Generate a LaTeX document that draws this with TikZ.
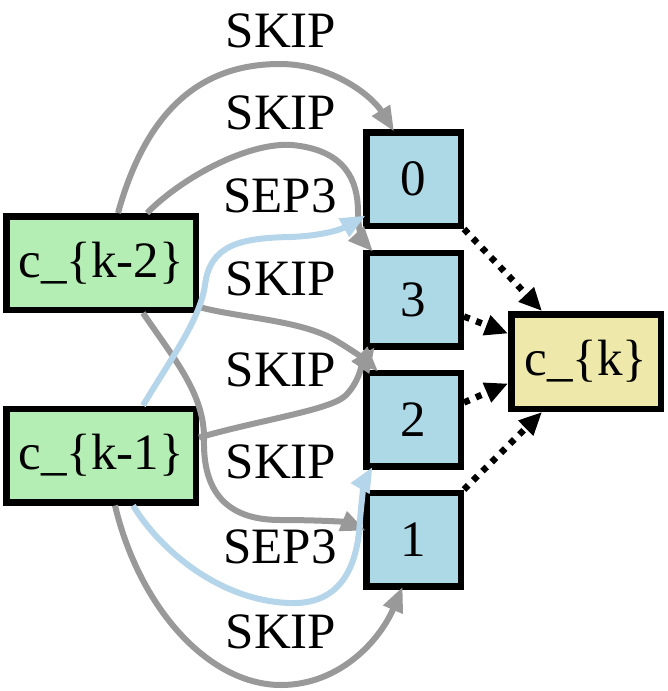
\documentclass[tikz,border=0pt]{standalone}
\usepackage{fontspec}
\setmainfont{Liberation Serif}
\usetikzlibrary{arrows.meta}
\definecolor{nodegreen}{HTML}{B4EEB4}
\definecolor{nodeblue}{HTML}{ADD8E6}
\definecolor{nodeyellow}{HTML}{EEE8AA}
\definecolor{edgegray}{HTML}{999999}
\definecolor{edgeblue}{HTML}{B5D5EB}
\begin{document}
\begin{tikzpicture}[x=1pt,y=-1pt,
  font=\fontsize{51}{60}\selectfont,
  box/.style={draw=black,line width=6.5pt,inner sep=0pt,rectangle},
  inbox/.style={box,fill=nodegreen,minimum width=189.5pt,minimum height=93.5pt},
  opbox/.style={box,fill=nodeblue,minimum width=94.5pt,minimum height=93.5pt},
  outbox/.style={box,fill=nodeyellow,minimum width=149.5pt,minimum height=94.5pt},
  oplabel/.style={inner sep=0pt},
  skipedge/.style={draw=edgegray,line width=6pt,shorten >=-3pt,-{Triangle[length=25pt,width=20pt]}},
  sepedge/.style={draw=edgeblue,line width=6pt,shorten >=-3pt,-{Triangle[length=25pt,width=20pt]}},
  sumedge/.style={draw=black,line width=6.5pt,dash pattern=on 6pt off 7pt,-{Triangle[length=23pt,width=20pt]}}
]
\useasboundingbox (0,0) rectangle (667,691);

% nodes
\node[inbox] (km2) at (101,263) {c\_\{k-2\}};
\node[inbox] (km1) at (101,455.5) {c\_\{k-1\}};
\node[opbox] (n0) at (413.5,179) {0};
\node[opbox] (n3) at (413.5,299.5) {3};
\node[opbox] (n2) at (413.5,419.5) {2};
\node[opbox] (n1) at (413.5,539.5) {1};
\node[outbox] (ck) at (586,361.5) {c\_\{k\}};

% labels
\node[oplabel] (l1) at (281,31) {SKIP};
\node[oplabel] (l2) at (281,113) {SKIP};
\node[oplabel] (l3) at (280,196) {SEP3};
\node[oplabel] (l4) at (281,279) {SKIP};
\node[oplabel] (l5) at (281,370) {SKIP};
\node[oplabel] (l6) at (281,462) {SKIP};
\node[oplabel] (l7) at (280,547) {SEP3};
\node[oplabel] (l8) at (281,632) {SKIP};

% edges
\draw[skipedge] ([xshift=17pt]km2.north)
  .. controls (148,105) and (205,64) .. (280,64)
  .. controls (332,64) and (372,96) .. ([xshift=-21pt]n0.north);
\draw[skipedge] ([xshift=46pt]km2.north)
  .. controls (185,175) and (250,142) .. (292,145)
  .. controls (345,150) and (358,180) .. (358,212)
  .. controls (358,232) and (364,242) .. ([xshift=8pt]n3.north west);
\draw[skipedge] ([yshift=6pt]km2.south east)
  .. controls (240,318) and (300,320) .. (335,340)
  .. controls (355,352) and (368,362) .. ([xshift=13pt]n2.north west);
\draw[skipedge] ([yshift=18pt]km1.east)
  .. controls (260,420) and (330,410) .. (345,396)
  .. controls (358,384) and (362,365) .. ([xshift=10pt]n3.south west);
\draw[skipedge] ([xshift=42pt]km2.south)
  .. controls (175,360) and (205,395) .. (204,440)
  .. controls (203,490) and (225,520) .. (280,520)
  .. controls (320,520) and (345,522) .. ([yshift=10pt]n1.west);
\draw[sepedge] ([xshift=42pt]km1.north)
  .. controls (170,360) and (200,320) .. (205,285)
  .. controls (210,245) and (240,238) .. (290,237)
  .. controls (320,236) and (340,230) .. ([yshift=12pt]n0.south west);
\draw[sepedge] ([xshift=32pt]km1.south)
  .. controls (160,550) and (220,601) .. (290,603)
  .. controls (345,605) and (358,560) .. (360,520)
  .. controls (362,495) and (365,480) .. ([xshift=8pt]n2.south west);
\draw[skipedge] ([xshift=14pt]km1.south)
  .. controls (140,610) and (210,685) .. (281,685)
  .. controls (340,685) and (380,640) .. ([xshift=-12pt]n1.south);

\draw[sumedge] (n0.south east) -- ([xshift=-44pt]ck.north);
\draw[sumedge] ([yshift=-17pt]n3.east) -- ([yshift=28pt]ck.west);
\draw[sumedge] ([yshift=17pt]n2.east) -- ([yshift=-22pt]ck.west);
\draw[sumedge] (n1.north east) -- ([xshift=-44pt]ck.south);
\end{tikzpicture}
\end{document}
